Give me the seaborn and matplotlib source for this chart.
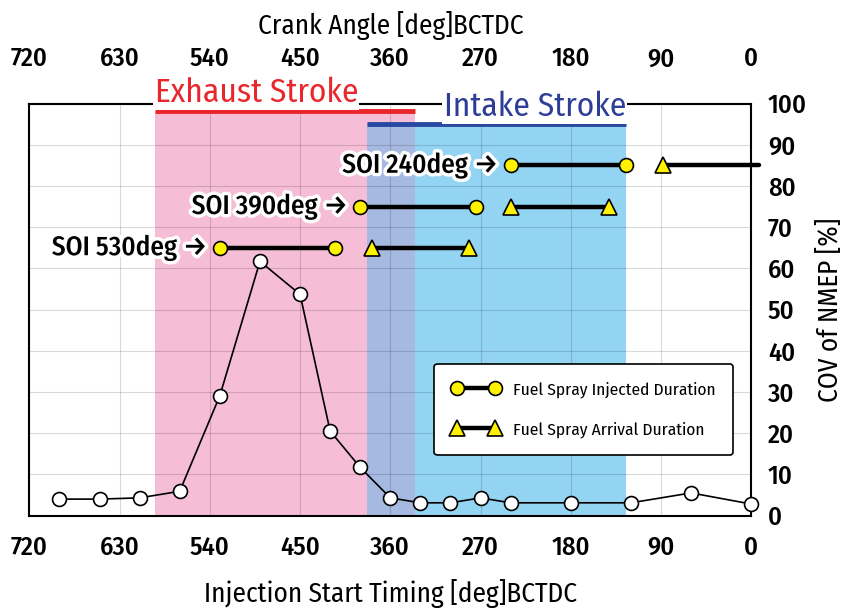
import matplotlib
matplotlib.use('Agg')
import matplotlib.pyplot as plt
import matplotlib.patheffects as pe
from matplotlib import font_manager
from matplotlib.lines import Line2D
import seaborn as sns

# COV of NMEP vs injection start timing
soi = [690, 650, 610, 570, 530, 490, 450, 420, 390, 360, 330, 300, 270, 240, 180, 120, 60, 0]
cov = [4.0, 4.0, 4.3, 5.9, 29.1, 61.7, 53.7, 20.5, 11.7, 4.3, 3.1, 3.1, 4.3, 3.1, 3.1, 3.1, 5.5, 2.8]

# spray durations for three SOI cases (drawn at fixed heights)
case_labels = ['SOI 530deg', 'SOI 390deg', 'SOI 240deg']
case_rows = [65, 75, 85]
inj_start = [530, 390, 240]
inj_end = [415, 275, 125]
arr_start = [378, 240, 88]
arr_end = [282, 142, -8]

exhaust = (595, 335)
intake = (383, 125)
xticks = [720, 630, 540, 450, 360, 270, 180, 90, 0]
yticks = list(range(0, 101, 10))

sns.set_theme(style='white')
names = {f.name for f in font_manager.fontManager.ttflist}
font = 'Liberation Sans'
for cand in ['Fira Sans Condensed', 'PT Sans Narrow', 'Roboto Condensed']:
    if cand in names:
        font = cand
        break
plt.rcParams['font.family'] = [font, 'DejaVu Sans']
plt.rcParams['font.weight'] = 500
for k in ['text.color', 'axes.labelcolor', 'xtick.color', 'ytick.color']:
    plt.rcParams[k] = 'black'

yellow = '#fff200'

fig = plt.figure(figsize=(8.45, 6.08), dpi=100)
ax = fig.add_axes([0.0347, 0.152, 0.8544, 0.6776])

# stroke regions
ax.axvspan(exhaust[1], exhaust[0], ymax=0.98, color='#f5bdd6', lw=0, zorder=0.5)
ax.axvspan(intake[1], intake[0], ymax=0.95, color='#93d4f3', lw=0, zorder=0.5)
ax.axvspan(exhaust[1], intake[0], ymax=0.95, color='#a6b9e0', lw=0, zorder=0.6)
ax.hlines(98.2, exhaust[1], exhaust[0], color='#e8262b', lw=3.5, zorder=3)
ax.hlines(95.0, intake[1], intake[0], color='#2849a0', lw=3.5, zorder=3)

ax.annotate('Exhaust Stroke', xy=(exhaust[0], 100), xytext=(0, 1), textcoords='offset points',
            ha='left', va='baseline', fontsize=24, fontweight='normal', color='#e8262b',
            zorder=6, annotation_clip=False, bbox=dict(fc='white', ec='none', pad=1))
ax.annotate('Intake Stroke', xy=(intake[1], 100), xytext=(0, -9), textcoords='offset points',
            ha='right', va='baseline', fontsize=24, fontweight='normal', color='#2e3d96',
            zorder=6, annotation_clip=False, bbox=dict(fc='white', ec='none', pad=1))

# COV curve
sns.lineplot(x=soi, y=cov, ax=ax, color='black', lw=1.2, marker='o', markersize=10,
             markerfacecolor='white', markeredgecolor='black', markeredgewidth=1.2,
             zorder=4, clip_on=False)

# spray durations
for lab, row, a, b, c, d in zip(case_labels, case_rows, inj_start, inj_end, arr_start, arr_end):
    ax.plot([a, b], [row, row], color='black', lw=3.2, marker='o', ms=10,
            mfc=yellow, mec='black', mew=1.2, zorder=5)
    if d < 0:
        ax.plot([c, d], [row, row], color='black', lw=3.2, marker='^', ms=11, markevery=[0],
                mfc=yellow, mec='black', mew=1.2, zorder=5, clip_on=False)
    else:
        ax.plot([c, d], [row, row], color='black', lw=3.2, marker='^', ms=11,
                mfc=yellow, mec='black', mew=1.2, zorder=5)
    t = ax.annotate(lab + ' \u2192', xy=(a, row), xytext=(-9, 0), textcoords='offset points',
                    ha='right', va='center', fontsize=19.5, color='black', zorder=6)
    t.set_path_effects([pe.withStroke(linewidth=5, foreground='white')])

ax.set_xlim(720, 0)
ax.set_ylim(0, 100)
ax.set_xticks(xticks)
ax.set_yticks(yticks)
ax.grid(True, color='black', alpha=0.15, lw=0.8)
ax.set_axisbelow('line')
ax.yaxis.tick_right()
ax.yaxis.set_label_position('right')
ax.tick_params(length=0, labelsize=19)
ax.tick_params(axis='x', pad=14)
ax.tick_params(axis='y', pad=12)
for s in ax.spines.values():
    s.set_color('black')
    s.set_linewidth(1.5)
ax.set_xlabel('Injection Start Timing [deg]BCTDC', fontsize=19.5, labelpad=14)
ax.set_ylabel('COV of NMEP [%]', fontsize=19.5, labelpad=7)

sec = ax.secondary_xaxis('top')
sec.set_xticks(xticks)
sec.tick_params(length=0, labelsize=19, pad=23)
sec.spines['top'].set_visible(False)
sec.set_xlabel('Crank Angle [deg]BCTDC', fontsize=19.5, labelpad=9)

handles = [
    Line2D([0], [0], color='black', lw=3.2, marker='o', ms=10, mfc=yellow, mec='black', mew=1.2),
    Line2D([0], [0], color='black', lw=3.2, marker='^', ms=11, mfc=yellow, mec='black', mew=1.2),
]
leg = ax.legend(handles, ['Fuel Spray Injected Duration', 'Fuel Spray Arrival Duration'],
                loc='upper right', bbox_to_anchor=(0.975, 0.368), borderaxespad=0,
                numpoints=2, prop={'size': 12.5, 'weight': 'normal'},
                handlelength=2.8, handletextpad=0.75, labelspacing=1.35, borderpad=1.0,
                fancybox=True, framealpha=1)
leg.get_frame().set_edgecolor('black')
leg.get_frame().set_linewidth(1.2)
leg.set_zorder(7)

fig.savefig('out.png', dpi=100)
